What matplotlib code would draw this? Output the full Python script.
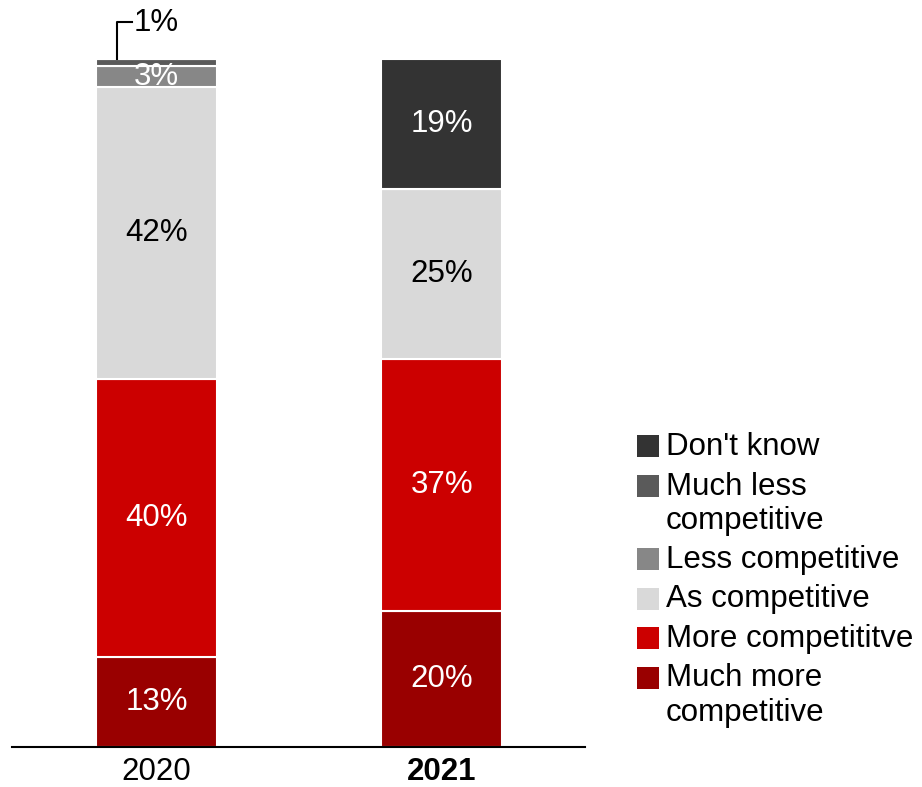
import matplotlib.pyplot as plt
from matplotlib.patches import Rectangle

plt.rcParams['font.family'] = ['Liberation Sans', 'DejaVu Sans']

# Survey responses per year (percent labels as shown)
years = ['2020', '2021']
categories = ['Much more\ncompetitive', 'More competititve', 'As competitive',
              'Less competitive', 'Much less\ncompetitive', "Don't know"]
much_more = [13, 20]
more = [40, 37]
same = [42, 25]
less = [3, 0]
much_less = [1, 0]
dont_know = [0, 19]

series = [much_more, more, same, less, much_less, dont_know]
colors = ['#990000', '#cc0000', '#d9d9d9', '#878787', '#5a5a5a', '#333333']
text_colors = ['white', 'white', 'black', 'white', 'white', 'white']
fs = 22.5

W, H = 922, 787
fig = plt.figure(figsize=(W / 100, H / 100), dpi=100)
ax = fig.add_axes([0.013, 0.0508, 0.6215, 0.874])

# each bar is scaled so it fills 100%
totals = [sum(s[i] for s in series) for i in range(len(years))]
x = [0, 1]
bottoms = [0.0, 0.0]
for vals, col, tc in zip(series, colors, text_colors):
    heights = [v / t * 100 for v, t in zip(vals, totals)]
    ax.bar(x, heights, width=0.424, bottom=bottoms, color=col,
           edgecolor='white', linewidth=1.5)
    for xi, v, h, b in zip(x, vals, heights, bottoms):
        if v >= 2:
            ax.text(xi, b + h / 2, f'{v}%', ha='center', va='center',
                    fontsize=fs, color=tc)
    bottoms = [b + h for b, h in zip(bottoms, heights)]

# callout for the thin 1% slice on top of 2020
ax.plot([-0.138, -0.138, -0.085], [100, 105.4, 105.4], color='black',
        linewidth=1.5, clip_on=False)
ax.text(-0.08, 105.3, f'{much_less[0]}%', ha='left', va='center',
        fontsize=fs, color='black', clip_on=False)

ax.set_xlim(-0.506, 1.501)
ax.set_ylim(0, 100)
ax.set_xticks(x)
ax.set_xticklabels(years, fontsize=fs)
ax.get_xticklabels()[1].set_fontweight('bold')
ax.tick_params(axis='x', length=0, pad=7)
ax.set_yticks([])
for side in ['top', 'right', 'left']:
    ax.spines[side].set_visible(False)
ax.spines['bottom'].set_linewidth(1.5)

# legend drawn by hand so the swatch sits on the first line of each label
y = 446
for label, col in zip(categories[::-1], colors[::-1]):
    fig.patches.append(Rectangle((637 / W, 1 - (y + 11) / H), 22 / W, 22 / H,
                                 transform=fig.transFigure, facecolor=col,
                                 edgecolor='none'))
    for line in label.split('\n'):
        fig.text(666 / W, 1 - (y + 1) / H, line, ha='left', va='center',
                 fontsize=fs)
        y += 34
    y += 5.5

fig.savefig('out.png', dpi=100)
